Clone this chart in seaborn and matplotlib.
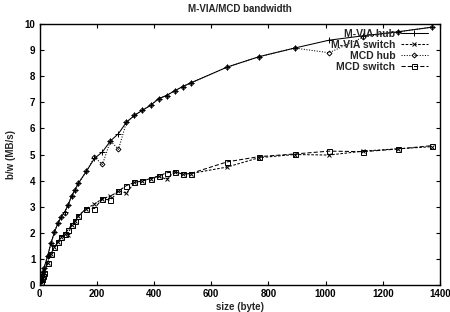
import matplotlib
matplotlib.use("Agg")
import matplotlib.pyplot as plt
import seaborn as sns
import pandas as pd

sizes = [4, 8, 12, 16, 28, 40, 52, 64, 76, 88, 100, 112, 124, 136, 164, 192, 220, 248,
         276, 304, 332, 360, 388, 416, 444, 472, 500, 528, 656, 768, 892, 1012, 1132, 1252, 1372]

mvia_hub = [0.17, 0.33, 0.50, 0.66, 1.10, 1.60, 2.02, 2.36, 2.62, 2.80, 3.07, 3.40, 3.65, 3.90,
            4.36, 4.85, 5.10, 5.52, 5.80, 6.24, 6.50, 6.70, 6.88, 7.14, 7.26, 7.44, 7.60, 7.74,
            8.35, 8.75, 9.08, 9.38, 9.55, 9.70, 9.88]
mvia_switch = [0.10, 0.22, 0.33, 0.45, 0.85, 1.20, 1.45, 1.65, 1.84, 1.96, 1.92, 2.31, 2.44, 2.65,
               2.93, 3.10, 3.31, 3.40, 3.60, 3.52, 3.93, 3.99, 4.08, 4.17, 4.05, 4.34, 4.25, 4.27,
               4.52, 4.88, 5.00, 4.98, 5.13, 5.22, 5.30]
mcd_hub = [0.17, 0.33, 0.50, 0.66, 1.10, 1.60, 2.02, 2.36, 2.62, 2.76, 3.07, 3.40, 3.65, 3.90,
           4.36, 4.90, 4.62, 5.52, 5.20, 6.24, 6.50, 6.70, 6.88, 7.14, 7.26, 7.44, 7.60, 7.74,
           8.35, 8.75, 9.08, 8.90, 9.50, 9.70, 9.88]
mcd_switch = [0.10, 0.22, 0.33, 0.45, 0.85, 1.20, 1.45, 1.65, 1.84, 1.96, 2.12, 2.31, 2.44, 2.65,
              2.93, 2.93, 3.31, 3.25, 3.60, 3.81, 3.93, 3.99, 4.08, 4.17, 4.30, 4.34, 4.25, 4.27,
              4.72, 4.92, 5.02, 5.13, 5.11, 5.21, 5.34]

labels = ["M-VIA hub", "M-VIA switch", "MCD hub", "MCD switch"]
series = [mvia_hub, mvia_switch, mcd_hub, mcd_switch]
x_ticks = [0, 200, 400, 600, 800, 1000, 1200, 1400]
y_ticks = [0, 1, 2, 3, 4, 5, 6, 7, 8, 9, 10]

sns.set_theme(style="ticks")
plt.rcParams["font.family"] = ["Liberation Sans", "DejaVu Sans"]

fig = plt.figure(figsize=(4.5, 3.12), dpi=100)
ax = fig.add_axes([0.0878, 0.0865, 0.890, 0.8365])

styles = [
    dict(linestyle="-", marker="+", ms=4.5, mew=0.7, mfc="none"),
    dict(linestyle=(0, (2.5, 1.5)), marker="x", ms=3.2, mew=0.7, mfc="none"),
    dict(linestyle=(0, (1, 1.5)), marker="D", ms=2.5, mew=0.7, mfc="none"),
    dict(linestyle=(0, (4, 2)), marker="s", ms=3.6, mew=0.7, mfc="none"),
]

for lab, ys, st in zip(labels, series, styles):
    df = pd.DataFrame({"size": sizes, "bw": ys})
    sns.lineplot(data=df, x="size", y="bw", ax=ax, color="black", lw=0.75,
                 label=lab, markeredgecolor="black", **st)

ax.set_xlim(0, 1400)
ax.set_ylim(0, 10)
ax.set_xticks(x_ticks)
ax.set_yticks(y_ticks)
ax.tick_params(direction="in", length=3, width=0.8, top=True, right=True,
               labelsize=7, pad=3, colors="black")
for lbl in ax.get_xticklabels() + ax.get_yticklabels():
    lbl.set_fontweight("bold")
for sp in ax.spines.values():
    sp.set_color("black")
    sp.set_linewidth(1.0)

ax.set_xlabel("size (byte)", fontsize=7, fontweight="bold", labelpad=2)
ax.set_ylabel("b/w (MB/s)", fontsize=7, fontweight="bold", labelpad=6)
ax.set_title("M-VIA/MCD bandwidth", fontsize=7, fontweight="bold", pad=9)

leg = ax.legend(loc="upper right", bbox_to_anchor=(0.985, 1.005), frameon=False,
                markerfirst=False, fontsize=7.5, handlelength=2.6, labelspacing=0.1,
                handletextpad=0.5, borderaxespad=0.2)
for t in leg.get_texts():
    t.set_fontweight("bold")
    t.set_ha("right")
leg._legend_box.align = "right"

fig.savefig("out.png", dpi=100)
